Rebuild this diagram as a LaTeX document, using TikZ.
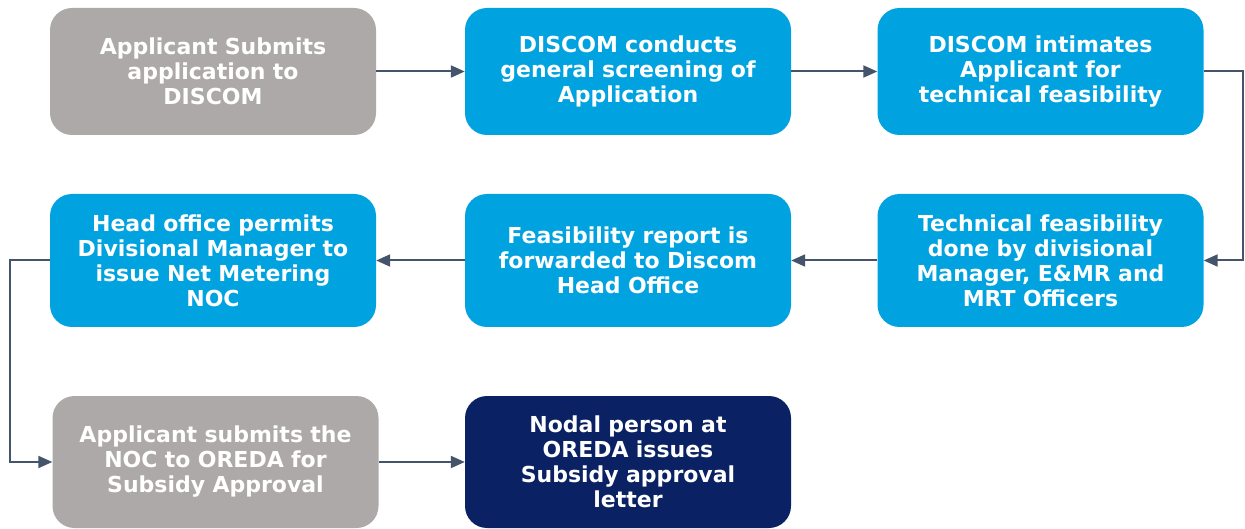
\documentclass[tikz,border=0pt]{standalone}
\usepackage{fontspec}
\setmainfont{DejaVu Sans}
\usetikzlibrary{arrows.meta}
\definecolor{stepgrey}{HTML}{ADA9A8}
\definecolor{stepblue}{HTML}{00A3E0}
\definecolor{stepnavy}{HTML}{0A2263}
\definecolor{flowline}{HTML}{44546A}

\begin{document}
\begin{tikzpicture}[
  x=1pt, y=-1pt,
  every node/.style={inner sep=0pt},
  box/.style={rounded corners=22pt, minimum width=326pt, minimum height=127pt,
    text width=320pt, align=center, text=white,
    font=\fontsize{22}{25}\selectfont\bfseries},
  greybox/.style={box, fill=stepgrey},
  bluebox/.style={box, fill=stepblue},
  navybox/.style={box, fill=stepnavy},
  flow/.style={draw=flowline, line width=2pt, -{Triangle[length=14pt, width=12pt]}}
]
\useasboundingbox (0,0) rectangle (1245,529);

% first row
\node [greybox] (submit) at (213,71.5) {Applicant Submits\\application to\\DISCOM};
\node [bluebox] (screen) at (628,71.5) {DISCOM conducts\\general screening of\\Application};
\node [bluebox] (intimate) at (1040.5,71.5) {DISCOM intimates\\Applicant for\\technical feasibility};

% second row
\node [bluebox, minimum height=133pt] (permit) at (213,260.5) {Head office permits\\Divisional Manager to\\issue Net Metering\\NOC};
\node [bluebox, minimum height=133pt] (forward) at (628,260.5) {Feasibility report is\\forwarded to Discom\\Head Office};
\node [bluebox, minimum height=133pt] (feasible) at (1040.5,260.5) {Technical feasibility\\done by divisional\\Manager, E\&MR and\\MRT Officers};

% third row
\node [greybox, minimum height=132pt] (noc) at (215.5,462) {Applicant submits the\\NOC to OREDA for\\Subsidy Approval};
\node [navybox, minimum height=132pt] (approve) at (628,462) {Nodal person at\\OREDA issues\\Subsidy approval\\letter};

\draw [flow] (submit) -- (screen);
\draw [flow] (screen) -- (intimate);
\draw [flow] (intimate.east) -- ++(39,0) |- (feasible.east);
\draw [flow] (feasible) -- (forward);
\draw [flow] (forward) -- (permit);
\draw [flow] (permit.west) -- ++(-40,0) |- (noc.west);
\draw [flow] (noc) -- (approve);
\end{tikzpicture}
\end{document}
